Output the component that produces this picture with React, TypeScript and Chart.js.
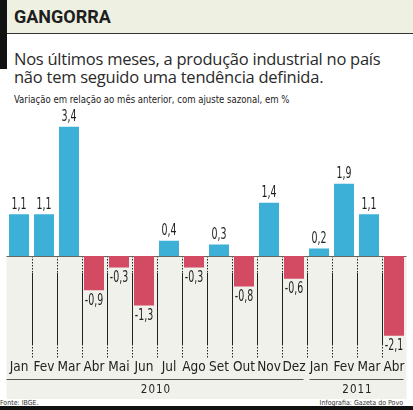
import React, { useEffect, useRef } from "react";
import { Chart, registerables } from "chart.js";

Chart.register(...registerables);

const months = ["Jan", "Fev", "Mar", "Abr", "Mai", "Jun", "Jul", "Ago", "Set", "Out", "Nov", "Dez", "Jan", "Fev", "Mar", "Abr"];
const values = [1.1, 1.1, 3.4, -0.9, -0.3, -1.3, 0.4, -0.3, 0.3, -0.8, 1.4, -0.6, 0.2, 1.9, 1.1, -2.1];
const years = ["2010", "2011"];
const yearSpans = [12, 4];

const BLUE = "#3db0d8";
const RED = "#d24b63";
const GRAY = "#f1f1ec";
const COND = "'DejaVu Sans Condensed', sans-serif";

const decor = {
  id: "gangorra",
  beforeDraw(chart: any) {
    const { ctx, chartArea, scales } = chart;
    const x = scales.x;
    const y = scales.y;
    const zero = y.getPixelForValue(0);
    const left = chartArea.left;
    const right = chartArea.right;
    ctx.save();
    ctx.fillStyle = GRAY;
    ctx.fillRect(left, zero, right - left, chart.height - zero);
    ctx.strokeStyle = "#222";
    ctx.lineWidth = 1;
    const bottom = chartArea.bottom;
    for (let i = 1; i < months.length; i++) {
      const bx = Math.round((x.getPixelForValue(i - 1) + x.getPixelForValue(i)) / 2) + 0.5;
      ctx.setLineDash([1.5, 1.5]);
      ctx.beginPath();
      ctx.moveTo(bx, zero);
      ctx.lineTo(bx, zero + 17);
      ctx.moveTo(bx, bottom - 12);
      ctx.lineTo(bx, bottom + 2);
      ctx.stroke();
      ctx.setLineDash([]);
      ctx.beginPath();
      ctx.moveTo(bx, zero + 17);
      ctx.lineTo(bx, bottom - 12);
      ctx.stroke();
    }
    ctx.strokeStyle = "#666";
    ctx.beginPath();
    ctx.moveTo(left, Math.round(zero) + 0.5);
    ctx.lineTo(right, Math.round(zero) + 0.5);
    ctx.stroke();
    ctx.restore();
  },
  afterDatasetsDraw(chart: any) {
    const { ctx } = chart;
    const meta = chart.getDatasetMeta(0);
    ctx.save();
    ctx.fillStyle = "#1e1e1e";
    ctx.font = `15px ${COND}`;
    ctx.textAlign = "center";
    meta.data.forEach((bar: any, i: number) => {
      const v = values[i];
      const txt = v.toFixed(1).replace(".", ",");
      ctx.save();
      if (v >= 0) {
        ctx.textBaseline = "bottom";
        ctx.translate(bar.x, bar.y - 2);
      } else {
        ctx.textBaseline = "top";
        ctx.translate(bar.x, bar.y + 3);
      }
      ctx.scale(0.7, 1);
      ctx.fillText(txt, 0, 0);
      ctx.restore();
    });
    ctx.restore();
  },
  afterDraw(chart: any) {
    const { ctx, scales, chartArea } = chart;
    const x = scales.x;
    const half = (x.getPixelForValue(1) - x.getPixelForValue(0)) / 2;
    ctx.save();
    ctx.strokeStyle = "#555";
    ctx.lineWidth = 1;
    ctx.fillStyle = "#222";
    ctx.font = `11.5px ${COND}`;
    (ctx as any).letterSpacing = "1px";
    ctx.textAlign = "center";
    ctx.textBaseline = "alphabetic";
    const lineY = chartArea.bottom + 23.5;
    let start = 0;
    years.forEach((yr, gi) => {
      const end = start + yearSpans[gi] - 1;
      const x0 = x.getPixelForValue(start) - half + (gi > 0 ? 3 : 0);
      const x1 = x.getPixelForValue(end) + half - 3;
      ctx.beginPath();
      ctx.moveTo(x0, lineY);
      ctx.lineTo(x1, lineY);
      ctx.stroke();
      ctx.fillText(yr, (x0 + x1) / 2 + 1, chartArea.bottom + 37);
      start = end + 1;
    });
    ctx.restore();
  },
};

function BarChart() {
  const ref = useRef<HTMLCanvasElement | null>(null);
  useEffect(() => {
    if (!ref.current) return;
    const chart = new Chart(ref.current, {
      type: "bar",
      data: {
        labels: months,
        datasets: [
          {
            data: values,
            backgroundColor: values.map((v) => (v >= 0 ? BLUE : RED)),
            barPercentage: 0.8,
            categoryPercentage: 1,
            borderWidth: 0,
          },
        ],
      },
      options: {
        animation: false,
        responsive: false,
        devicePixelRatio: 1,
        layout: { padding: { top: 4, left: 6.5, right: 6.5, bottom: 0 } },
        plugins: { legend: { display: false }, tooltip: { enabled: false }, title: { display: false } },
        scales: {
          x: {
            grid: { display: false, drawTicks: false },
            border: { display: false },
            ticks: {
              color: "#222",
              font: { family: COND, size: 13.5 },
              padding: 3,
              maxRotation: 0,
              autoSkip: false,
            },
            afterFit: (s: any) => {
              s.height = 43;
            },
          },
          y: {
            display: false,
            min: -2.632,
            max: 3.789,
          },
        },
      },
      plugins: [decor],
    });
    return () => chart.destroy();
  }, []);
  return (
    <canvas
      ref={ref}
      width={413}
      height={291}
      style={{ position: "absolute", left: 0, top: 108, width: 413, height: 291 }}
    />
  );
}

export default function App() {
  return (
    <div
      style={{
        position: "absolute",
        left: 0,
        top: 0,
        width: 413,
        height: 410,
        background: "#fff",
        overflow: "hidden",
        fontFamily: "'Open Sans', sans-serif",
      }}
    >
      <div style={{ position: "absolute", left: 7, top: 0, width: 406, height: 34, background: "#eef1e2", borderBottom: "1px solid #333", boxSizing: "border-box" }} />
      <div style={{ position: "absolute", left: 0, top: 0, width: 7, height: 69, background: "#111" }} />
      <div style={{ position: "absolute", left: 14, top: 8, font: "bold 18px Roboto", lineHeight: "18px", color: "#1e1e1e", whiteSpace: "nowrap" }}>
        GANGORRA
      </div>
      <div style={{ position: "absolute", left: 14, top: 50, fontSize: 16.5, lineHeight: "18px", color: "#2a2a2a", whiteSpace: "nowrap", letterSpacing: "-0.25px" }}>
        Nos últimos meses, a produção industrial no país
        <br />
        não tem seguido uma tendência definida.
      </div>
      <div
        style={{
          position: "absolute",
          left: 14,
          top: 94,
          font: `11px ${COND}`,
          lineHeight: "11px",
          color: "#222",
          whiteSpace: "nowrap",
          transform: "scaleX(0.865)",
          transformOrigin: "left top",
        }}
      >
        Variação em relação ao mês anterior, com ajuste sazonal, em %
      </div>
      <BarChart />
      <div style={{ position: "absolute", left: 0, top: 400, font: `7px ${COND}`, lineHeight: "7px", color: "#333", whiteSpace: "nowrap" }}>
        Fonte: IBGE.
      </div>
      <div style={{ position: "absolute", right: 10, top: 400, font: `7px ${COND}`, lineHeight: "7px", color: "#333", whiteSpace: "nowrap" }}>
        Infografia: Gazeta do Povo
      </div>
      <div style={{ position: "absolute", left: 0, top: 406, width: 413, height: 4, background: "#111" }} />
    </div>
  );
}
